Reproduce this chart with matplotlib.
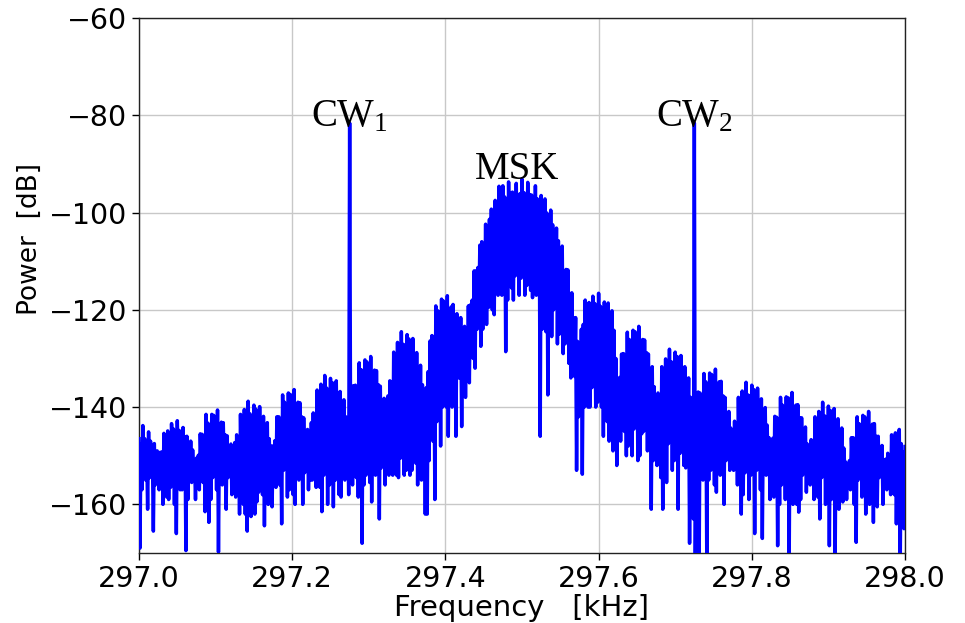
import numpy as np
import matplotlib
matplotlib.use("Agg")
import matplotlib.pyplot as plt

# ---------------- data ----------------
# spectrum sampled every 1.25 Hz from 297.0 kHz; every lobe is stored as its
# upper samples (peaks) and the lower samples (dips) that alternate with them
f_start_khz = 297.0
f_step_khz = 0.00125

edge_left_pk = [-146.5, -147.7, -143.8, -146.5, -148.3, -145.1, -147.0, -149.8, -147.5, -149.8]
edge_left_dp = [-169, -157, -151.5, -155, -161, -154.5, -150.5, -165.5, -156, -149]

lobe_l7_pk = [-150, -149.3, -149.2, -145.4, -146.5, -144.9, -146.7, -143.4, -144.5, -146.3,
              -142.8, -144.8, -146.7, -144.2, -146.1, -146.0, -148.4, -147.0, -148.8, -151.2]
lobe_l7_dp = [-157, -152.5, -160, -151, -158.5, -159, -156.5, -150, -160, -166,
              -152.5, -157, -157, -150, -169.5, -159, -154.5, -155.5, -153, -159]

lobe_l6_pk = [-150.5, -149.9, -145.5, -145.6, -147.1, -141.5, -143.3, -144.0, -141.5, -141.7,
              -143.6, -140.6, -145.2, -143.1, -143.2, -145.7, -145.9, -149.2, -147.6, -150.5]
lobe_l6_dp = [-154, -157, -151.5, -155.5, -161.5, -154.5, -163.7, -159, -154.5, -151,
              -157, -169.8, -154.5, -156, -153, -161, -154.5, -153, -158, -157]

lobe_l5_pk = [-147.3, -145.7, -146.8, -141.5, -143.6, -140.5, -144.0, -138.8, -141.4, -141.8,
              -139.6, -140.4, -143.5, -139.9, -143.1, -141.9, -145.6, -143.2, -146.5, -148.0]
lobe_l5_dp = [-158.5, -154, -162, -152.5, -160, -162, -165.5, -151, -162.5, -158,
              -162, -159.5, -157.5, -153, -158, -164.4, -155, -160, -152.5, -160.5]

lobe_l4_pk = [-148, -146.9, -142.0, -142.0, -143.2, -137.5, -139.0, -139.6, -137.1, -137.4,
              -139.3, -136.4, -140.9, -139.0, -139.1, -142.0, -142.2, -145.9, -144.6, -147.7]
lobe_l4_dp = [-153, -156.5, -151.5, -156, -164, -153, -152, -158.5, -157, -148.5,
              -158, -160, -154.5, -155, -150.5, -160, -153.5, -152, -157, -155]

lobe_l3_pk = [-143.2, -141.2, -142.0, -136.5, -138.5, -135.3, -138.5, -133.5, -136.1, -136.4,
              -134.1, -135.0, -138.2, -134.6, -137.9, -136.8, -140.7, -138.5, -142.0, -143.7]
lobe_l3_dp = [-155, -154, -156.5, -151.5, -156.5, -161.5, -154, -148.5, -160, -156,
              -151, -160.5, -155, -148, -158, -158.5, -153.5, -155, -152, -158]

# first sample: CW1 carrier at 297.275 kHz
lobe_l2_pk = [-81.6, -140.5, -135.6, -135.5, -136.6, -130.9, -132.3, -133.0, -130.3, -130.7,
              -132.6, -129.6, -134.2, -132.4, -132.5, -135.4, -135.7, -139.5, -138.2, -141.5]
lobe_l2_dp = [-149.5, -156, -147, -154.5, -158.5, -151, -168, -156, -154, -146.5,
              -155.5, -159.5, -150, -154, -149, -163, -152.5, -148, -156, -153]

lobe_l1_pk = [-137.7, -134.6, -134.8, -128.7, -130.3, -126.7, -129.8, -124.5, -127.1, -127.3,
              -125.1, -126.0, -129.4, -125.9, -129.6, -128.8, -133.1, -131.4, -135.4, -137.7]
lobe_l1_dp = [-154, -147, -154, -144, -154, -154.5, -150.5, -143.5, -154, -153,
              -146, -154, -153, -144, -151.5, -156, -148.5, -155, -147, -162]

lobe_l0_pk = [-136, -132.7, -126.4, -125.3, -125.6, -119.2, -120.2, -120.5, -117.8, -118.2,
              -120.0, -117.1, -121.5, -119.4, -118.9, -121.4, -120.8, -123.8, -121.6, -123.8]
lobe_l0_dp = [-162, -151, -143, -147, -159, -143, -139, -148, -140, -136,
              -140, -146, -135, -140, -131, -146, -134, -134, -144, -132]

main_lobe_pk = [-123.4, -124.5, -119.2, -119.0, -118.0, -112.0, -112.0, -111.3, -106.7, -106.0,
                -106.5, -102.4, -105.0, -101.4, -99.3, -100.2, -97.5, -99.4, -94.6, -98.0,
                -94.5, -96.8, -99.0, -93.7, -96.0, -95.8, -97.3, -94.0, -96.5, -96.1,
                -93.1, -95.9, -98.7, -93.8, -96.3, -96.4, -97.9, -94.5, -97.2, -99.0,
                -96.5, -98.3, -97.2, -100.1, -103.0, -99.5, -102.5, -105.6, -103.2, -105.8,
                -108.5, -106.9, -112.0, -111.7, -111.8, -116.7, -116.5, -121.7, -121.6, -126.5]
main_lobe_dp = [-138, -133, -135, -126, -130, -132, -124, -119, -127.5, -124,
                -118, -123, -119.5, -113, -120, -121, -114.5, -117, -111, -117,
                -115.5, -128.6, -118, -110.5, -115.5, -118, -113, -110.5, -117, -113.5,
                -111, -117, -115, -110, -116, -117.5, -113, -117, -112.5, -146,
                -124, -119, -124.5, -137.5, -122, -125.5, -120, -117, -127, -125,
                -122, -129, -127, -122, -131, -134, -129, -133.7, -153, -142]

lobe_r0_pk = [-128, -124.0, -123.0, -118.0, -119.5, -118.5, -120.5, -117.2, -118.7, -120.5,
              -116.6, -119.3, -120.7, -118.4, -120.8, -118.6, -122.6, -120.2, -124.2, -130.0]
lobe_r0_dp = [-140, -153.8, -140, -132, -140, -140, -136, -129.5, -140, -139,
              -132.5, -140, -146, -133, -143, -147, -141, -149, -146, -152]

lobe_r1_pk = [-135, -133.9, -129.1, -129.0, -130.3, -124.6, -126.1, -126.8, -124.2, -124.5,
              -126.4, -123.4, -127.9, -126.1, -126.2, -128.8, -129.1, -132.8, -131.7, -135.8]
lobe_r1_dp = [-146.5, -147, -143, -145, -150, -148, -141, -150, -144.5, -140,
              -151, -150, -145.5, -145, -143, -149, -144.5, -161, -151, -148]

lobe_r2_pk = [-139.7, -137.1, -137.6, -131.7, -133.5, -130.1, -133.3, -128.1, -130.7, -130.9,
              -128.7, -129.6, -132.8, -129.4, -132.9, -131.7, -135.9, -134.0, -138.0, -141.5]
lobe_r2_dp = [-152, -147, -154.5, -161, -151, -155.5, -147.5, -146, -153, -151,
              -149, -161, -149.5, -145, -152, -152.5, -149, -168, -146, -163]

# first sample: CW2 carrier at 297.725 kHz
lobe_r3_pk = [-81.6, -141.3, -136.9, -137.1, -138.7, -133.1, -134.8, -135.5, -133.0, -133.3,
              -135.2, -132.2, -136.7, -134.8, -134.7, -137.7, -138.0, -141.8, -140.9, -144.3]
lobe_r3_dp = [-172, -154, -172, -154.5, -155, -153, -172, -155, -153, -145.5,
              -156, -157.5, -149, -154, -149, -160, -151, -149.5, -153, -152]

lobe_r4_pk = [-145, -142.9, -143.6, -138.0, -140.0, -136.7, -140.0, -134.9, -137.5, -137.7,
              -135.5, -136.4, -139.6, -136.1, -139.4, -138.3, -142.3, -140.1, -143.7, -146.3]
lobe_r4_dp = [-153, -152, -156, -151, -162, -158, -153.5, -147.5, -159, -154,
              -151, -166, -153, -146, -157, -167, -152, -154, -151.5, -159]

lobe_r5_pk = [-147, -146.4, -141.9, -142.1, -143.6, -138.0, -139.6, -140.3, -137.9, -138.1,
              -140.0, -137.0, -141.5, -139.6, -139.5, -142.2, -142.2, -145.6, -144.1, -147.6]
lobe_r5_dp = [-152, -158.5, -149, -168.5, -160, -156, -151.5, -159, -154.5, -172,
              -158.5, -160, -155, -160, -161.6, -159, -154, -153, -157.5, -153]

lobe_r6_pk = [-148.7, -146.7, -147.6, -142.0, -144.1, -140.9, -144.2, -139.0, -141.8, -142.0,
              -139.8, -140.7, -143.9, -140.3, -143.6, -142.4, -146.4, -144.3, -148.4, -151.3]
lobe_r6_dp = [-156, -155, -159, -156, -158.5, -163, -154.5, -152, -160, -157.5,
              -168.5, -159, -157, -172, -157.5, -161, -154, -159.5, -152, -159]

lobe_r7_pk = [-152, -151.0, -146.3, -146.3, -147.6, -142.0, -143.4, -144.2, -141.7, -142.0,
              -143.9, -140.9, -145.4, -143.5, -143.4, -146.0, -146.0, -149.3, -147.9, -150.8]
lobe_r7_dp = [-154, -157, -151.5, -160, -167.8, -155, -153, -158.5, -156, -162,
              -158.5, -160, -155, -163.7, -151, -160.5, -154.5, -152, -160, -155]

edge_right_pk = [-150.7, -149.5, -150.3, -145.7, -147.8, -145.3, -149.1, -144.6, -147.5, -149.3, -148.1]
edge_right_dp = [-157, -155, -158, -153.5, -158, -164, -154.5, -172, -160.5, -165]

# annotations
label_texts = [r"CW$_1$", "MSK", r"CW$_2$"]
label_freqs = [297.275, 297.493, 297.725]
label_levels = [-82.2, -93.2, -82.2]

x_ticks = [297.0, 297.2, 297.4, 297.6, 297.8, 298.0]
y_ticks = [-160, -140, -120, -100, -80, -60]


# ---------------- assemble ----------------
def interleave(peaks, dips):
    out = np.empty(len(peaks) + len(dips))
    out[0::2] = peaks
    out[1::2] = dips
    return out


segments = [
    (edge_left_pk, edge_left_dp), (lobe_l7_pk, lobe_l7_dp), (lobe_l6_pk, lobe_l6_dp),
    (lobe_l5_pk, lobe_l5_dp), (lobe_l4_pk, lobe_l4_dp), (lobe_l3_pk, lobe_l3_dp),
    (lobe_l2_pk, lobe_l2_dp), (lobe_l1_pk, lobe_l1_dp), (lobe_l0_pk, lobe_l0_dp),
    (main_lobe_pk, main_lobe_dp),
    (lobe_r0_pk, lobe_r0_dp), (lobe_r1_pk, lobe_r1_dp), (lobe_r2_pk, lobe_r2_dp),
    (lobe_r3_pk, lobe_r3_dp), (lobe_r4_pk, lobe_r4_dp), (lobe_r5_pk, lobe_r5_dp),
    (lobe_r6_pk, lobe_r6_dp), (lobe_r7_pk, lobe_r7_dp), (edge_right_pk, edge_right_dp),
]
power_db = np.concatenate([interleave(p, d) for p, d in segments])
freq_khz = f_start_khz + f_step_khz * np.arange(len(power_db))

plt.rcParams["mathtext.fontset"] = "custom"
plt.rcParams["mathtext.rm"] = "Liberation Serif"
plt.rcParams["mathtext.it"] = "Liberation Serif:italic"
plt.rcParams["path.simplify"] = False

fig = plt.figure(figsize=(9.65, 6.23), dpi=100)
ax = fig.add_axes([139 / 965, 1 - 553 / 623, (905 - 139) / 965, (553 - 18) / 623])

ax.plot(freq_khz, power_db, color="#0000ff", linewidth=2.5, zorder=3)

ax.set_xlim(297.0, 298.0)
ax.set_ylim(-170, -60)
ax.set_xticks(x_ticks)
ax.set_xticklabels([f"{v:.1f}" for v in x_ticks])
ax.set_yticks(y_ticks)
ax.tick_params(labelsize=20.5, length=5, width=1)
ax.grid(True, color="#c8c8c8", linewidth=1.0, zorder=0)
ax.set_axisbelow(True)
for s in ax.spines.values():
    s.set_color("#222222")
    s.set_linewidth(1.0)

ax.set_xlabel("Frequency   [kHz]", fontsize=21)
ax.set_ylabel("Power  [dB]", fontsize=19)
ax.xaxis.set_label_coords(0.5, -0.076)
ax.xaxis.label.set_va("top")
ax.yaxis.set_label_coords(-0.1253, 0.587)

for t, fx, lv in zip(label_texts, label_freqs, label_levels):
    ax.text(fx, lv, t, fontsize=28, family="Liberation Serif",
            ha="center", va="baseline", zorder=4)

fig.savefig("out.png", dpi=100)
